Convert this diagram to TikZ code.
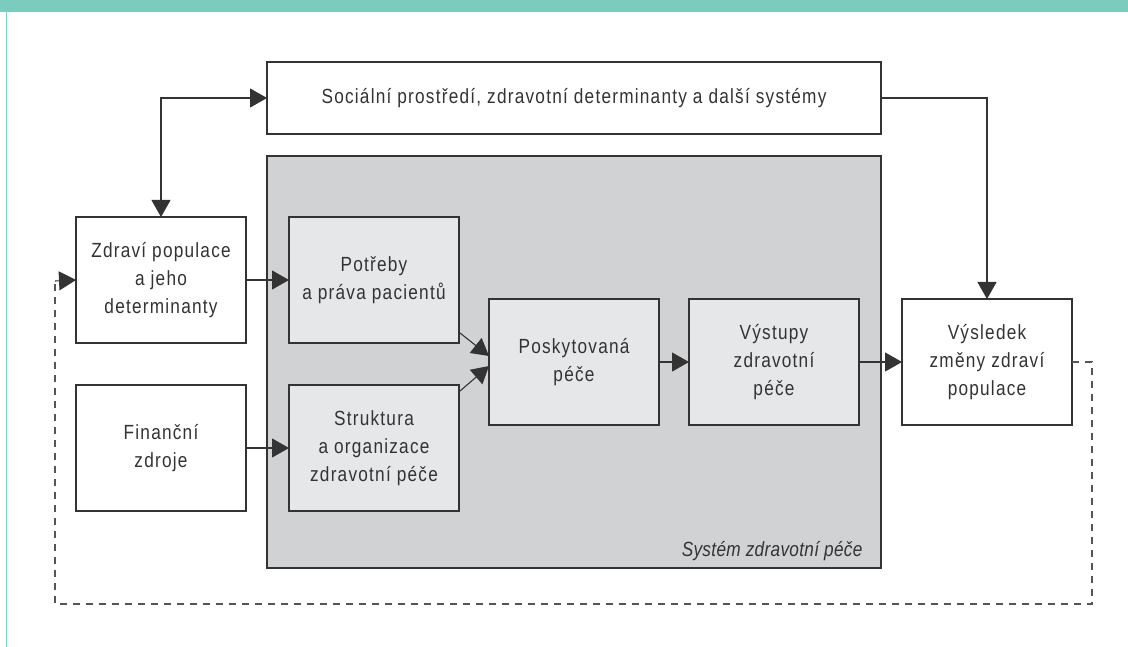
\documentclass[tikz,border=0pt]{standalone}
\usepackage{fontspec}
\setmainfont[FakeStretch=0.84,LetterSpace=6]{Liberation Sans}
\usetikzlibrary{arrows.meta,calc}
\definecolor{teal1}{HTML}{7BCBBF}
\definecolor{teal2}{HTML}{79D4C6}
\definecolor{ink}{HTML}{333333}
\definecolor{sysgray}{HTML}{D1D2D4}
\definecolor{innergray}{HTML}{E6E7E8}
\definecolor{dashgray}{HTML}{555555}
\tikzset{
  box/.style={draw=ink, line width=1.3pt, fill=white, inner sep=0pt, outer sep=0pt,
    minimum width=170pt, minimum height=126pt, align=center, text=ink,
    font=\fontsize{20.5}{28}\selectfont},
  inbox/.style={box, fill=innergray},
  conn/.style={draw=ink, line width=1.1pt, -{Triangle[length=17pt,width=19pt]}},
  biconn/.style={draw=ink, line width=1.1pt, {Triangle[length=17pt,width=19pt]}-{Triangle[length=17pt,width=19pt]}},
  fb/.style={draw=dashgray, line width=1.3pt, dash pattern=on 7pt off 6pt},
}
\begin{document}
\begin{tikzpicture}[x=1pt,y=-1pt]
\useasboundingbox (0,0) rectangle (1128,647);
\fill[white] (0,0) rectangle (1128,647);
\fill[teal1] (0,0) rectangle (1128,12);
\draw[teal2, line width=1.5pt] (6.5,12) -- (6.5,647);

\node[box, minimum width=614pt, minimum height=72pt] (top) at (574,98) {Sociální prostředí, zdravotní determinanty a další systémy};
\node[box, fill=sysgray, minimum width=614pt, minimum height=412pt] (sys) at (574,362) {};
\node[anchor=base east, text=ink, font=\fontsize{20.5}{28}\selectfont\itshape\addfontfeature{LetterSpace=1.5}] (syslabel) at (866,556) {Systém zdravotní péče};

\node[box] (zdr) at (161,280) {Zdraví populace\\a jeho\\determinanty};
\node[box] (fin) at (161,448) {Finanční\\zdroje};
\node[inbox] (pot) at (374,280) {Potřeby\\a práva pacientů};
\node[inbox] (str) at (374,448) {Struktura\\a organizace\\zdravotní péče};
\node[inbox] (pos) at (574,362) {Poskytovaná\\péče};
\node[inbox] (vys) at (774,362) {Výstupy\\zdravotní\\péče};
\node[box] (vysl) at (987,362) {Výsledek\\změny zdraví\\populace};

\coordinate (c1) at (zdr.north |- top.west);
\draw[biconn] (zdr.north) -- (c1) -- (top.west);
\coordinate (c2) at (vysl.north |- top.east);
\draw[conn] (top.east) -- (c2) -- (vysl.north);

\draw[conn] (zdr.east) -- (pot.west);
\draw[conn] (fin.east) -- (str.west);
\draw[conn] ($(pot.south east)+(1,-10)$) -- ($(pos.west)+(0,-6)$);
\draw[conn] ($(str.north east)+(1,6)$) -- ($(pos.west)+(0,4)$);
\draw[conn] (pos.east) -- (vys.west);
\draw[conn] (vys.east) -- (vysl.west);

\coordinate (d1) at ($(vysl.east)+(20,0)$);
\coordinate (d2) at (1092,604);
\coordinate (d3) at (55,604);
\coordinate (d4) at ($(zdr.west)+(-21,1)$);
\draw[fb] (vysl.east) -- (d1) -- (d2) -- (d3) -- (d4);
\draw[conn] (d4) -- (zdr.west);
\end{tikzpicture}
\end{document}
